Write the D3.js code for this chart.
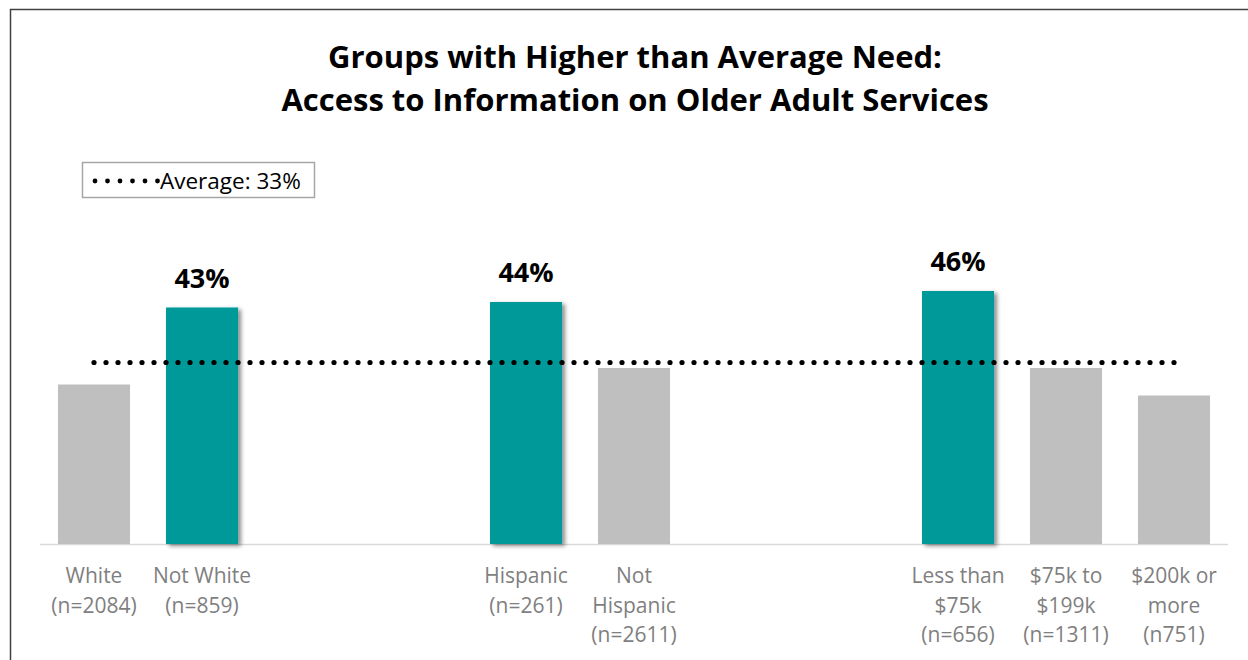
<!DOCTYPE html>
<html>
<head>
<meta charset="utf-8">
<script src="https://cdn.jsdelivr.net/npm/d3@7"></script>
<style>
  html, body { margin: 0; padding: 0; background: #fff; }
  svg { display: block; font-family: 'Open Sans', Lato, sans-serif; }
</style>
</head>
<body>
<div id="chart"></div>
<script>
// Données
const slots      = ['White', 'Not White', 'g1', 'g2', 'Hispanic', 'Not Hispanic', 'g3', 'g4', 'Less than $75k', '$75k to $199k', '$200k or more']
const categories = ['White', 'Not White', 'Hispanic', 'Not Hispanic', 'Less than $75k', '$75k to $199k', '$200k or more']
const values     = [29, 43, 44, 32, 46, 32, 27]
const highlight  = [false, true, true, false, true, false, false]
const tickLabels = [
  ['White', '(n=2084)'],
  ['Not White', '(n=859)'],
  ['Hispanic', '(n=261)'],
  ['Not', 'Hispanic', '(n=2611)'],
  ['Less than', '$75k', '(n=656)'],
  ['$75k to', '$199k', '(n=1311)'],
  ['$200k or', 'more', '(n751)'],
]
const average = 33
const titleLines = ['Groups with Higher than Average Need:', 'Access to Information on Older Adult Services']

const COLORS = {
  teal: '#009999',
  gray: '#bfbfbf',
  axis: '#d9d9d9',
  label: '#7f7f7f',
  border: '#404040',
}

const width = 1248, height = 660
const m = { left: 40, right: 20, top: 0, bottom: 116 }
const baseY = 544

const svg = d3.select('#chart').append('svg')
  .attr('width', width).attr('height', height)

// Ombre portée des barres mises en avant
const defs = svg.append('defs')
defs.append('filter').attr('id', 'shadow')
  .attr('x', '-20%').attr('y', '-20%').attr('width', '150%').attr('height', '140%')
  .append('feDropShadow')
  .attr('dx', 3).attr('dy', 2).attr('stdDeviation', 2)
  .attr('flood-color', '#000').attr('flood-opacity', 0.45)

// Cadre
svg.append('path')
  .attr('d', `M10.5,${height} V9.5 H${width}`)
  .attr('fill', 'none')
  .attr('stroke', COLORS.border)
  .attr('stroke-width', 1.5)

// Titre
svg.append('text')
  .attr('x', 635).attr('y', 68)
  .attr('text-anchor', 'middle')
  .attr('font-size', 31).attr('font-weight', 'bold')
  .attr('fill', '#000')
  .selectAll('tspan').data(titleLines).join('tspan')
  .attr('x', 635).attr('dy', (d, i) => i === 0 ? 0 : 43)
  .text(d => d)

// Scales
const x = d3.scaleBand()
  .domain(slots)
  .range([m.left, width - m.right])
  .paddingInner(0.333).paddingOuter(0.1665)

const y = d3.scaleLinear()
  .domain([0, 100])
  .range([baseY, baseY - 550])

// Axe X
svg.append('line')
  .attr('x1', m.left).attr('x2', width - m.right)
  .attr('y1', baseY + 0.5).attr('y2', baseY + 0.5)
  .attr('stroke', COLORS.axis).attr('stroke-width', 1.5)

// Barres
const bars = categories.map((c, i) => ({ c, v: values[i], hi: highlight[i], lab: tickLabels[i] }))

svg.selectAll('rect.bar')
  .data(bars)
  .join('rect')
  .attr('class', 'bar')
  .attr('x', d => x(d.c))
  .attr('width', x.bandwidth())
  .attr('y', d => y(d.v))
  .attr('height', d => y(0) - y(d.v))
  .attr('fill', d => d.hi ? COLORS.teal : COLORS.gray)
  .attr('filter', d => d.hi ? 'url(#shadow)' : null)

// Étiquettes de valeur (barres mises en avant seulement)
svg.selectAll('text.val')
  .data(bars.filter(d => d.hi))
  .join('text')
  .attr('class', 'val')
  .attr('x', d => x(d.c) + x.bandwidth() / 2)
  .attr('y', d => y(d.v) - 20)
  .attr('text-anchor', 'middle')
  .attr('font-size', 27).attr('font-weight', 'bold')
  .attr('fill', '#000')
  .text(d => d.v + '%')

// Ligne moyenne pointillée
const avgY = y(average)
const dots = d3.range(x(categories[0]) + x.bandwidth() / 2, x(categories[6]) + x.bandwidth() / 2 + 1, 12)
svg.selectAll('circle.avg')
  .data(dots)
  .join('circle')
  .attr('class', 'avg')
  .attr('cx', d => d).attr('cy', avgY)
  .attr('r', 2.6)
  .attr('fill', '#000')

// Libellés de catégories
svg.selectAll('text.tick')
  .data(bars)
  .join('text')
  .attr('class', 'tick')
  .attr('text-anchor', 'middle')
  .attr('font-size', 21)
  .attr('fill', COLORS.label)
  .each(function (d) {
    const cx = x(d.c) + x.bandwidth() / 2
    d3.select(this).selectAll('tspan').data(d.lab).join('tspan')
      .attr('x', cx)
      .attr('y', (t, i) => 583 + i * 29.5)
      .text(t => t)
  })

// Légende
const legend = svg.append('g')
legend.append('rect')
  .attr('x', 82.5).attr('y', 162.5)
  .attr('width', 232).attr('height', 35)
  .attr('fill', '#fff')
  .attr('stroke', '#a6a6a6').attr('stroke-width', 1.5)
legend.selectAll('circle')
  .data(d3.range(6))
  .join('circle')
  .attr('cx', i => 95 + i * 12.5).attr('cy', 181)
  .attr('r', 2.4).attr('fill', '#000')
legend.append('text')
  .attr('x', 160).attr('y', 189)
  .attr('font-size', 22.5)
  .attr('fill', '#000')
  .text('Average: ' + average + '%')
</script>
</body>
</html>
